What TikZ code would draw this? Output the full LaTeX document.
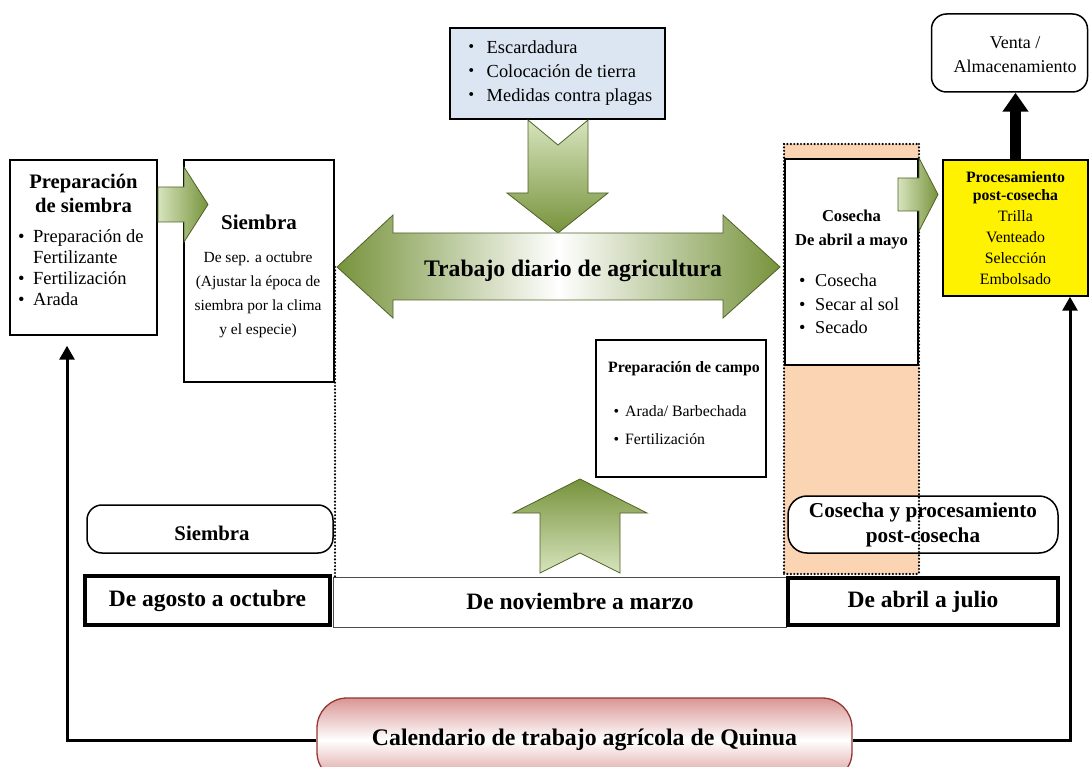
\documentclass[tikz,border=0pt]{standalone}
\usepackage{fontspec}
\setmainfont{Liberation Serif}
\newfontfamily\cjk{Noto Sans CJK JP}
\usepackage{tikz}
\usetikzlibrary{shapes,arrows.meta}

\definecolor{agreen}{RGB}{119,147,60}
\definecolor{alight}{RGB}{215,228,189}
\definecolor{aline}{RGB}{79,98,40}
\definecolor{bluefill}{RGB}{220,230,242}
\definecolor{peach}{RGB}{251,212,180}
\definecolor{redfill}{RGB}{217,150,148}
\definecolor{redline}{RGB}{148,54,52}

\newcommand{\fsz}[2]{\fontsize{#1}{#2}\selectfont}
\newcommand{\bul}[1]{\makebox[#1][l]{\textbullet}}
\newcommand{\kdot}{\makebox[24pt][l]{\cjk ・}}

\begin{document}
\begin{tikzpicture}
[
x=1pt, y=-1pt,
box/.style={draw=black, line width=1.5pt, fill=white, inner sep=0pt},
roundbox/.style={box, rounded corners=15pt},
period/.style={draw=black, line width=4pt, fill=white, inner sep=0pt, font=\bfseries\fsz{23.5}{28}},
txt/.style={inner sep=0pt},
loopline/.style={line width=3pt, -{Triangle[length=14pt,width=15pt]}}
]
\tikzset{greenarrow/.style={draw=aline, line width=0.8pt},
         dotmark/.style={fill=black}}
\useasboundingbox (0,0) rectangle (1090,767);
\clip (0,0) rectangle (1090,767);

\fill[peach] (784,144) rectangle (919,574);

\node[draw=black!70, line width=1pt, fill=white, minimum width=453pt, minimum height=50pt] (nov) at (559.5,602) {};
\node[period, minimum width=245pt, minimum height=49pt] (ago) at (207.5,600.5) {De agosto a octubre};
\node[period, minimum width=270pt, minimum height=47pt] (abr) at (923,601.5) {De abril a julio};

\node[box, minimum width=147pt, minimum height=175pt] (prep) at (83.5,247.5) {};
\node[box, minimum width=150pt, minimum height=222pt] (siem) at (259,271) {};
\node[box, line width=1.2pt, fill=bluefill, minimum width=215pt, minimum height=91pt,
      font=\fsz{18.4}{24}, align=left] (labor) at (557.5,73.5)
      {\kdot Escardadura\\\kdot Colocación de tierra\\\kdot Medidas contra plagas};
\node[box, minimum width=170pt, minimum height=137pt] (campo) at (681,408.5) {};
\node[box, minimum width=133pt, minimum height=206pt] (cos) at (851.5,262) {};
\node[box, fill=yellow, minimum width=145pt, minimum height=136pt,
      font=\fsz{15.8}{21}, align=center] (proc) at (1015.5,228)
      {\textbf{Procesamiento}\\[-3pt]\textbf{post-cosecha}\\Trilla\\Venteado\\Selección\\Embolsado};
\node[roundbox, minimum width=156pt, minimum height=78pt] (venta) at (1009.5,53) {};
\node[roundbox, minimum width=246pt, minimum height=48pt] (siemr) at (210,529) {};
\node[roundbox, rounded corners=19pt, minimum width=270pt, minimum height=57pt,
      font=\bfseries\fsz{21.2}{25}, align=center] (cosr) at (923,524.5)
      {Cosecha y procesamiento\\post-cosecha};
\node[draw=redline, line width=1.3pt, rounded corners=30pt, top color=redfill, bottom color=redfill,
      middle color=white, minimum width=535pt, minimum height=84pt,
      font=\bfseries\fsz{23.8}{28}] (title) at (584.5,740) {Calendario de trabajo agrícola de Quinua};

\foreach \t in {267,270.4,...,577}
  \fill[dotmark] (335,\t) circle (1.2pt);
\foreach \t in {0,3.4,...,430}
  {\fill[dotmark] (784,144+\t) circle (1.2pt); \fill[dotmark] (919,144+\t) circle (1.2pt);}
\foreach \t in {0,3.4,...,135}
  {\fill[dotmark] (784+\t,144) circle (1.2pt); \fill[dotmark] (784+\t,574) circle (1.2pt);}

\path[greenarrow, left color=alight, right color=agreen] (158,187) -- (184,187) -- (184,167) -- (208,204.5) -- (184,242) -- (184,222) -- (158,222) -- cycle;
\path[greenarrow, left color=alight, right color=agreen] (898,178) -- (919,178) -- (919,158) -- (938,194.5) -- (919,231) -- (919,211) -- (898,211) -- cycle;
\path[greenarrow, top color=alight, bottom color=agreen] (528,120) -- (558,145) -- (588,120) -- (588,193) -- (608,193) -- (558,233) -- (507,193) -- (528,193) -- cycle;
\path[greenarrow, top color=agreen, bottom color=alight] (580,479) -- (647,513) -- (620,513) -- (620,573) -- (580,553) -- (540,573) -- (540,513) -- (513,513) -- cycle;
\path[greenarrow, left color=agreen, right color=agreen, middle color=white] (337,267) -- (393,215) -- (393,233) -- (723,233) -- (723,215) -- (780,267) -- (723,318) -- (723,300) -- (393,300) -- (393,318) -- cycle;

\node[txt, font=\bfseries\fsz{23.7}{28}] (daily) at (573,270.5) {Trabajo diario de agricultura};
\node[txt, font=\bfseries\fsz{23.5}{28}] (novt) at (580,601) {De noviembre a marzo};
\node[txt, font=\bfseries\fsz{20.6}{24}, align=center] (prept) at (83.5,193.5) {Preparación\\de siembra};
\node[txt, font=\fsz{18.5}{21}, align=left, anchor=west] (prepl) at (17.8,267.5)
      {\bul{15.2pt}Preparación de\\\hspace*{15.2pt}Fertilizante\\\bul{15.2pt}Fertilización\\\bul{15.2pt}Arada};
\node[txt, font=\bfseries\fsz{21}{24}] (siemt) at (259,222.5) {Siembra};
\node[txt, font=\fsz{15.5}{24}, align=center] (sieml) at (258,295)
      {De sep. a octubre\\(Ajustar la época de\\siembra por la clima\\y el especie)};
\node[txt, font=\bfseries\fsz{15.8}{18}] (campot) at (684,369) {Preparación de campo};
\node[txt, font=\fsz{15.8}{28}, align=left, anchor=west] (campol) at (613.3,425)
      {\bul{11.7pt}Arada/ Barbechada\\\bul{11.7pt}Fertilización};
\node[txt, font=\bfseries\fsz{16.6}{24}, align=center] (cost) at (851.5,229.5) {Cosecha\\De abril a mayo};
\node[txt, font=\fsz{18.2}{23.5}, align=left, anchor=west] (cosl) at (799,304)
      {\bul{16pt}Cosecha\\\bul{16pt}Secar al sol\\\bul{16pt}Secado};
\node[txt, font=\fsz{18}{24}, align=center] (ventat) at (1015,55) {Venta /\\Almacenamiento};
\node[txt, font=\bfseries\fsz{20.8}{24}] (siemrt) at (212,533.5) {Siembra};

\coordinate (lx) at (67,0);
\coordinate (rx) at (1070,0);
\draw[loopline, shorten >=10pt] (title.west) -| (lx |- prep.south);
\draw[loopline] (title.east) -| (rx |- proc.south);
\draw[line width=11pt, -{Triangle[length=19pt,width=25pt]}] (proc.north) -- (proc.north |- venta.south);
\end{tikzpicture}
\end{document}
